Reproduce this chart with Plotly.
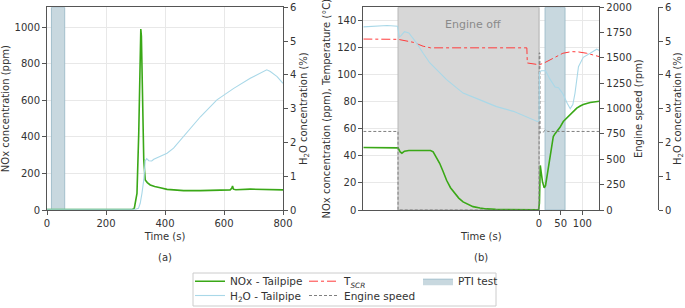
import plotly.graph_objects as go

# ---------------- data: panel (a) ----------------
a_nox_t = [0, 100, 200, 290, 296, 305, 311, 316, 318, 320, 322, 325, 328, 333, 340, 350, 365, 384, 407, 430,
           463, 520, 580, 621, 626, 629, 632, 640, 689, 746, 800]
a_nox = [2, 2, 2, 3, 10, 91, 420, 900, 990, 950, 785, 520, 274, 164, 150, 137, 128, 122, 113, 110,
         106, 106, 108, 110, 118, 131, 114, 111, 114, 112, 110]
a_h2o_t = [0, 100, 200, 300, 310, 316, 322, 328, 333, 338, 345, 355, 362, 384, 407, 429, 463, 520, 576,
           633, 689, 735, 745, 757, 780, 800]
a_h2o = [0.02, 0.02, 0.02, 0.02, 0.05, 0.2, 0.5, 0.89, 1.45, 1.52, 1.46, 1.45, 1.5, 1.58, 1.68, 1.83,
         2.17, 2.76, 3.26, 3.6, 3.9, 4.12, 4.15, 4.1, 3.95, 3.75]
a_x_ticks = [0, 200, 400, 600, 800]
a_y_ticks = [0, 200, 400, 600, 800, 1000]
h2o_ticks = [0, 1, 2, 3, 4, 5, 6]
a_x_range = [0, 800]
a_y_range = [0, 1109]
h2o_range = [0, 6]

# ---------------- data: panel (b) ----------------
b_nox_t = [-405, -330, -325, -320, -316, -310, -300, -270, -250, -244, -236, -229, -221, -213, -204, -194,
           -185, -175, -163, -152, -136, -121, -100, -60, -20, -1, 1, 3, 5, 8, 12, 15, 20, 25, 29, 33, 37,
           41, 48, 56, 64, 72, 80, 87, 95, 102, 118, 133, 139]
b_nox = [46.3, 46.5, 46, 43, 42, 43.5, 44, 44, 44, 43, 39, 34.6, 28.5, 22, 16.5, 12,
         8.8, 6, 4, 2.5, 1.5, 0.8, 0.5, 0.3, 0.2, 0.2, 5, 33, 28, 21, 16.5, 18, 28, 39.5, 48, 54.4, 56.5,
         58, 61, 65.5, 68, 70.5, 73, 75.4, 77, 78, 79.5, 80.2, 80.5]
b_h2o_t = [-405, -380, -350, -326, -322, -318, -310, -300, -290, -282, -267, -252, -213, -175, -136, -98,
           -59, -21, -4, 0, 1, 5, 15, 25, 37, 45, 55, 65, 72, 78, 83, 91, 102, 118, 133, 139]
b_h2o = [5.42, 5.44, 5.46, 5.44, 5.12, 5.16, 5.28, 5.24, 5.08, 4.94, 4.64, 4.36, 3.86, 3.46, 3.26, 3.06,
         2.92, 2.72, 2.62, 2.64, 4.08, 4.12, 4.12, 3.88, 3.64, 3.62, 3.44, 3.16, 3.0, 3.12, 3.46, 4.24,
         4.52, 4.64, 4.76, 4.72]
b_tscr_t = [-405, -325, -290, -267, -250, -150, -28, -27, -10, 0, 10, 25, 40, 55, 75, 90, 110, 139]
b_tscr = [126.5, 126.3, 124.1, 121.2, 120, 120, 120, 108.8, 108, 107.5, 108.5, 111, 114, 116, 117.2, 117,
          116, 113.5]
b_rpm_t = [-405, -325, -325, 0, 0.5, 2, 2.5, 10, 15, 20, 139]
b_rpm = [775, 775, 0, 0, 1550, 1550, 760, 770, 790, 775, 775]
b_x_ticks = [0, 50, 100]
b_y_ticks = [0, 20, 40, 60, 80, 100, 120, 140]
rpm_ticks = [0, 250, 500, 750, 1000, 1250, 1500, 1750, 2000]
b_x_range = [-405, 139]
b_y_range = [0, 150]
rpm_range = [0, 2000]

engine_off = [-325, 0]
pti_a = [15, 60]
pti_b = [14, 60]

# ---------------- styling ----------------
W, H = 685, 308
FONT = "DejaVu Sans"
TXT = "#333333"
SPINE = "#555555"
GRID = "#e8e8e8"
C_NOX = "#3aa817"
C_H2O = "#a9d8e8"
C_TSCR = "#ff3b3b"
C_RPM = "#7f7f7f"
PTI_FILL = "#c8d8df"
PTI_LINE = "#a3bfcc"
OFF_FILL = "#d7d7d7"
OFF_LINE = "#b8b8b8"


def span(xs, yr, xa, ya, fill, edge, name=None, legend=None):
    x0, x1 = xs
    y0, y1 = yr
    return go.Scatter(x=[x0, x0, x1, x1, x0], y=[y0, y1, y1, y0, y0], xaxis=xa, yaxis=ya,
                      mode="lines", fill="toself", fillcolor=fill, line=dict(color=edge, width=1),
                      hoverinfo="skip", name=name, legend=legend, showlegend=name is not None)


fig = go.Figure()

# panel (a)
fig.add_trace(span(pti_a, a_y_range, "x", "y", PTI_FILL, PTI_LINE, name="PTI test", legend="legend"))
fig.add_trace(go.Scatter(x=a_nox_t, y=a_nox, xaxis="x", yaxis="y", mode="lines",
                         line=dict(color=C_NOX, width=1.6), name="NOx - Tailpipe",
                         legend="legend", legendrank=1, showlegend=True))
fig.add_trace(go.Scatter(x=a_h2o_t, y=a_h2o, xaxis="x", yaxis="y2", mode="lines",
                         line=dict(color=C_H2O, width=1.1), name="H<sub>2</sub>O - Tailpipe",
                         legend="legend2", legendrank=1, showlegend=True))
# panel (b)
fig.add_trace(span(engine_off, b_y_range, "x2", "y3", OFF_FILL, OFF_LINE))
fig.add_trace(span(pti_b, b_y_range, "x2", "y3", PTI_FILL, PTI_LINE))
fig.add_trace(go.Scatter(x=b_nox_t, y=b_nox, xaxis="x2", yaxis="y3", mode="lines",
                         line=dict(color=C_NOX, width=1.6), showlegend=False))
fig.add_trace(go.Scatter(x=b_tscr_t, y=b_tscr, xaxis="x2", yaxis="y3", mode="lines",
                         line=dict(color=C_TSCR, width=1, dash="dashdot"),
                         name="T<sub><i>SCR</i></sub>", legend="legend", legendrank=2, showlegend=True))
fig.add_trace(go.Scatter(x=b_rpm_t, y=b_rpm, xaxis="x2", yaxis="y4", mode="lines",
                         line=dict(color=C_RPM, width=1, dash="3px,2px"),
                         name="Engine speed", legend="legend2", legendrank=2, showlegend=True))
fig.add_trace(go.Scatter(x=b_h2o_t, y=b_h2o, xaxis="x2", yaxis="y5", mode="lines",
                         line=dict(color=C_H2O, width=1.1), showlegend=False))
fig.data[0].legendrank = 3

xa_dom = [47 / W, 283 / W]
xb_dom = [363.3 / W, 599.3 / W]
y_dom = [1 - 210 / H, 1 - 7.3 / H]

tickfont = dict(family=FONT, size=10, color=TXT)
titlefont = dict(family=FONT, size=10, color=TXT)


def axis_common(**kw):
    d = dict(showline=True, linecolor=SPINE, linewidth=1, ticks="outside", ticklen=4,
             tickcolor=SPINE, tickfont=tickfont, zeroline=False, automargin=False)
    d.update(kw)
    return d


legend_font = dict(family=FONT, size=10.5, color=TXT)

fig.update_layout(
    width=W, height=H, margin=dict(l=0, r=0, t=0, b=0, autoexpand=False),
    paper_bgcolor="white", plot_bgcolor="white",
    font=dict(family=FONT, size=10, color=TXT),
    xaxis=axis_common(domain=xa_dom, anchor="y", range=a_x_range, tickvals=a_x_ticks,
                      showgrid=True, gridcolor=GRID, mirror=True,
                      title=dict(text="Time (s)", font=titlefont, standoff=4)),
    yaxis=axis_common(domain=y_dom, anchor="x", range=a_y_range, tickvals=a_y_ticks,
                      showgrid=True, gridcolor=GRID, mirror=True,
                      title=dict(text="NOx concentration (ppm)", font=titlefont, standoff=4)),
    yaxis2=axis_common(overlaying="y", side="right", anchor="x", range=h2o_range, tickvals=h2o_ticks,
                       showgrid=False,
                       title=dict(text="H<sub>2</sub>O concentration (%)", font=titlefont, standoff=4)),
    xaxis2=axis_common(domain=xb_dom, anchor="y3", range=b_x_range, tickvals=b_x_ticks,
                       showgrid=True, gridcolor=GRID, mirror=True,
                       title=dict(text="Time (s)", font=titlefont, standoff=4)),
    yaxis3=axis_common(domain=y_dom, anchor="x2", range=b_y_range, tickvals=b_y_ticks,
                       showgrid=True, gridcolor=GRID, mirror=True,
                       title=dict(text="NOx concentration (ppm), Temperature (°C)", font=titlefont,
                                  standoff=4)),
    yaxis4=axis_common(overlaying="y3", side="right", anchor="x2", range=rpm_range, tickvals=rpm_ticks,
                       showgrid=False,
                       title=dict(text="Engine speed (rpm)", font=titlefont, standoff=4)),
    yaxis5=axis_common(overlaying="y3", side="right", anchor="free", position=658 / W, range=h2o_range,
                       tickvals=h2o_ticks, showgrid=False,
                       title=dict(text="H<sub>2</sub>O concentration (%)", font=titlefont, standoff=4)),
    legend=dict(orientation="h", x=190 / W, y=1 - 266.7 / H, xanchor="left", yanchor="top",
                entrywidth=69, entrywidthmode="pixels", bgcolor="rgba(0,0,0,0)",
                font=legend_font, itemwidth=30, tracegroupgap=0, traceorder="normal"),
    legend2=dict(orientation="h", x=190 / W, y=1 - 281 / H, xanchor="left", yanchor="top",
                 entrywidth=69, entrywidthmode="pixels", bgcolor="rgba(0,0,0,0)",
                 font=legend_font, itemwidth=30, tracegroupgap=0, traceorder="normal"),
    showlegend=True,
)

# legend frame
fig.add_shape(type="rect", xref="paper", yref="paper", x0=193 / W, x1=496 / W, y0=1 - 306 / H,
              y1=1 - 273 / H, line=dict(color="#cccccc", width=1), fillcolor="rgba(0,0,0,0)",
              layer="below")

ann_font = dict(family=FONT, size=10, color=TXT)
fig.add_annotation(text="(a)", xref="paper", yref="paper", x=(xa_dom[0] + xa_dom[1]) / 2, y=1 - 257 / H,
                   xanchor="center", yanchor="middle", showarrow=False, font=ann_font)
fig.add_annotation(text="(b)", xref="paper", yref="paper", x=(xb_dom[0] + xb_dom[1]) / 2, y=1 - 257 / H,
                   xanchor="center", yanchor="middle", showarrow=False, font=ann_font)
fig.add_annotation(text="Engine off", xref="paper", yref="paper", x=473 / W, y=1 - 24.5 / H,
                   xanchor="center", yanchor="middle", showarrow=False,
                   font=dict(family=FONT, size=11, color="#8a8a8a"))

fig.write_html("out.html", config={"displayModeBar": False},
               post_script="document.body.style.margin='0';")
